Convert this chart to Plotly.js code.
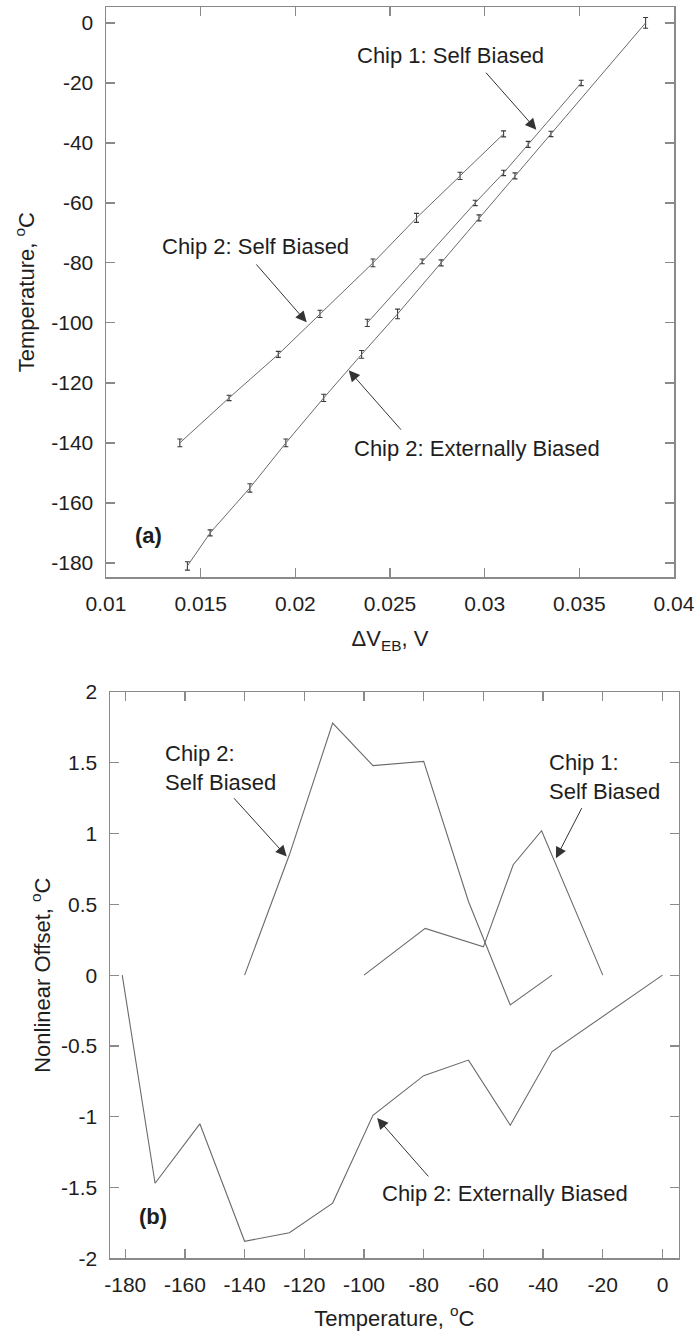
<!DOCTYPE html>
<html>
<head>
<meta charset="utf-8">
<script src="https://cdn.plot.ly/plotly-3.0.1.min.js"></script>
<style>html,body{margin:0;padding:0;background:#fff;}#chart{width:700px;height:1336px;}</style>
</head>
<body>
<div id="chart"></div>
<script>
// ---- Panel (a): Temperature vs delta V_EB ----
var chip1DV   = [0.0351, 0.0323, 0.0310, 0.0295, 0.0267, 0.0238];
var chip1T    = [-20, -40.5, -50, -60, -79.5, -100];
var chip1Err  = [0.9, 1.0, 0.9, 0.9, 0.8, 1.2];

var chip2sDV  = [0.0310, 0.0287, 0.0264, 0.0241, 0.0213, 0.0191, 0.0165, 0.0139];
var chip2sT   = [-37, -51, -65, -80, -97, -110.5, -125, -140];
var chip2sErr = [1.0, 1.2, 1.5, 1.3, 1.2, 1.0, 0.9, 1.3];

var chip2eDV  = [0.0385, 0.0335, 0.0316, 0.0297, 0.0277, 0.0254, 0.0235, 0.0215, 0.0195, 0.0176, 0.0155, 0.0143];
var chip2eT   = [0, -37, -51, -65, -80, -97, -110.5, -125, -140, -155, -170, -181];
var chip2eErr = [1.8, 0.9, 1.0, 1.0, 1.0, 1.6, 1.3, 1.2, 1.3, 1.4, 1.0, 1.4];

var aXTicks   = [0.01, 0.015, 0.02, 0.025, 0.03, 0.035, 0.04];
var aXLabels  = ["0.01", "0.015", "0.02", "0.025", "0.03", "0.035", "0.04"];
var aYTicks   = [0, -20, -40, -60, -80, -100, -120, -140, -160, -180];
var aYLabels  = ["0", "-20", "-40", "-60", "-80", "-100", "-120", "-140", "-160", "-180"];

// ---- Panel (b): Nonlinear offset vs temperature ----
var offChip1T   = [-100, -79.5, -60, -50, -40.5, -20];
var offChip1    = [0, 0.33, 0.20, 0.78, 1.02, 0];
var offChip2sT  = [-140, -125, -110.5, -97, -80, -65, -51, -37];
var offChip2s   = [0, 0.85, 1.78, 1.48, 1.51, 0.52, -0.21, 0];
var offChip2eT  = [-181, -170, -155, -140, -125, -110.5, -97, -80, -65, -51, -37, 0];
var offChip2e   = [0, -1.47, -1.05, -1.88, -1.82, -1.61, -0.99, -0.71, -0.60, -1.06, -0.54, 0];

var bXTicks  = [-180, -160, -140, -120, -100, -80, -60, -40, -20, 0];
var bXLabels = ["-180", "-160", "-140", "-120", "-100", "-80", "-60", "-40", "-20", "0"];
var bYTicks  = [2, 1.5, 1, 0.5, 0, -0.5, -1, -1.5, -2];
var bYLabels = ["2", "1.5", "1", "0.5", "0", "-0.5", "-1", "-1.5", "-2"];

var lineCol = '#6a6a6a';
var frameCol = '#8a8a8a';
var textCol = '#1e1e1e';
var FONT = 'Liberation Sans, Arial, sans-serif';

function errTrace(x, y, e) {
  return {
    x: x, y: y, type: 'scatter', mode: 'lines', xaxis: 'x', yaxis: 'y',
    line: {color: lineCol, width: 1},
    error_y: {type: 'data', array: e, visible: true, color: '#3a3a3a', thickness: 1.1, width: 2.5},
    hoverinfo: 'skip', showlegend: false
  };
}
function lineTrace(x, y) {
  return {
    x: x, y: y, type: 'scatter', mode: 'lines', xaxis: 'x2', yaxis: 'y2',
    line: {color: lineCol, width: 1.1}, hoverinfo: 'skip', showlegend: false
  };
}

var data = [
  errTrace(chip1DV, chip1T, chip1Err),
  errTrace(chip2sDV, chip2sT, chip2sErr),
  errTrace(chip2eDV, chip2eT, chip2eErr),
  lineTrace(offChip1T, offChip1),
  lineTrace(offChip2sT, offChip2s),
  lineTrace(offChip2eT, offChip2e)
];

function axisBase() {
  return {
    showline: true, mirror: 'ticks', linecolor: frameCol, linewidth: 1.5,
    ticks: 'inside', ticklen: 9, tickwidth: 1.2, tickcolor: frameCol,
    showgrid: false, zeroline: false, tickmode: 'array',
    tickfont: {family: FONT, size: 21, color: textCol},
    ticklabelstandoff: 7
  };
}
var titleFont = {family: FONT, size: 22, color: textCol};

var xa = axisBase();
Object.assign(xa, {domain: [106/700, 674/700], range: [0.0099999, 0.0400001], anchor: 'y',
  tickvals: aXTicks, ticktext: aXLabels,
  title: {text: '\u0394V<sub>EB</sub>, V', font: titleFont, standoff: 17}});
var ya = axisBase();
Object.assign(ya, {domain: [1 - 577/1336, 1 - 7.3/1336], range: [-184.7, 5.2], anchor: 'x',
  tickvals: aYTicks, ticktext: aYLabels,
  title: {text: 'Temperature, <sup>o</sup>C', font: titleFont, standoff: 10}});
var xb = axisBase();
Object.assign(xb, {domain: [110/700, 678.6/700], range: [-185.1, 5.4], anchor: 'y2',
  tickvals: bXTicks, ticktext: bXLabels,
  title: {text: 'Temperature, <sup>o</sup>C', font: titleFont, standoff: 15}});
var yb = axisBase();
Object.assign(yb, {domain: [1 - 1258.3/1336, 1 - 692/1336], range: [-2, 2], anchor: 'x2',
  tickvals: bYTicks, ticktext: bYLabels,
  title: {text: 'Nonlinear Offset, <sup>o</sup>C', font: titleFont, standoff: 4}});

var annFont = {family: FONT, size: 22, color: textCol};
function label(xr, yr, x, y, text, opts) {
  var a = {xref: xr, yref: yr, x: x, y: y, text: text, showarrow: false, font: annFont};
  return Object.assign(a, opts || {});
}
function arrow(xr, yr, x, y, ax, ay) {
  return {xref: xr, yref: yr, axref: xr, ayref: yr, x: x, y: y, ax: ax, ay: ay, text: '',
    showarrow: true, arrowhead: 2, arrowsize: 2.2, arrowwidth: 1, arrowcolor: '#333333', standoff: 0, startstandoff: 0};
}

var annotations = [
  label('x', 'y', 0.02817, -10.9, 'Chip 1: Self Biased'),
  arrow('x', 'y', 0.03273, -35.6, 0.0300, -16.1),
  label('x', 'y', 0.01792, -74.7, 'Chip 2: Self Biased'),
  arrow('x', 'y', 0.0206, -99.8, 0.01787, -80.0),
  label('x', 'y', 0.02962, -141.9, 'Chip 2: Externally Biased'),
  arrow('x', 'y', 0.02282, -115.8, 0.02565, -136.1),
  label('x', 'y', 0.01227, -170.8, '<b>(a)</b>'),

  label('x2', 'y2', -167.4, 1.465, 'Chip 2:<br>Self Biased', {xanchor: 'left', align: 'left'}),
  arrow('x2', 'y2', -125.9, 0.838, -144.0, 1.26),
  label('x2', 'y2', -38.8, 1.397, 'Chip 1:<br>Self Biased', {xanchor: 'left', align: 'left'}),
  arrow('x2', 'y2', -35.7, 0.826, -26.8, 1.19),
  label('x2', 'y2', -52.8, -1.542, 'Chip 2: Externally Biased'),
  arrow('x2', 'y2', -95.6, -1.009, -78.0, -1.432),
  label('x2', 'y2', -170.8, -1.704, '<b>(b)</b>')
];

var layout = {
  width: 700, height: 1336,
  margin: {l: 0, r: 0, t: 0, b: 0},
  paper_bgcolor: '#ffffff', plot_bgcolor: '#ffffff',
  font: {family: FONT, color: textCol},
  xaxis: xa, yaxis: ya, xaxis2: xb, yaxis2: yb,
  annotations: annotations,
  showlegend: false
};

Plotly.newPlot('chart', data, layout, {displayModeBar: false, staticPlot: true});
</script>
</body>
</html>
